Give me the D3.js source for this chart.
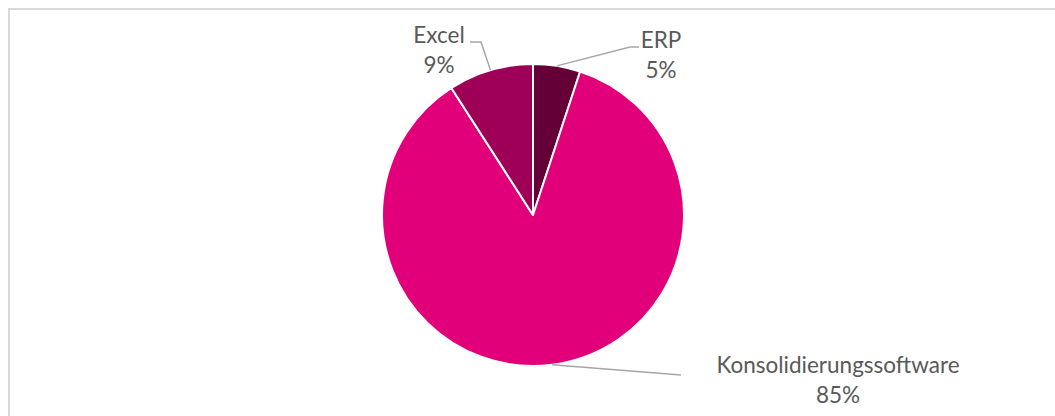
<!DOCTYPE html>
<html>
<head>
<meta charset="utf-8">
<script src="https://cdn.jsdelivr.net/npm/d3@7"></script>
<style>
  html, body { margin: 0; padding: 0; background: #fff; }
  svg { display: block; }
  text { font-family: Lato, "Open Sans", sans-serif; fill: #595959; }
</style>
</head>
<body>
<svg id="chart" width="1055" height="416"></svg>
<script>
// Shares of tools used for consolidation (percent)
const categories = ["ERP", "Konsolidierungssoftware", "Excel"];
const values = [5, 85, 9];
const colors = ["#640037", "#E2007A", "#9E0057"];
const valueLabels = ["5%", "85%", "9%"];

const width = 1055, height = 416;
const cx = 533, cy = 215, radius = 151;

const svg = d3.select("#chart");

// Chart frame
svg.append("rect")
  .attr("x", 9).attr("y", 9)
  .attr("width", 1100).attr("height", 500)
  .attr("fill", "none")
  .attr("stroke", "#D9D9D9")
  .attr("stroke-width", 2);

const data = categories.map((c, i) => ({ name: c, value: values[i], color: colors[i], label: valueLabels[i] }));

const pie = d3.pie().sort(null).value(d => d.value);
const arcs = pie(data);

const arc = d3.arc().innerRadius(0).outerRadius(radius);
const edge = d3.arc().innerRadius(radius).outerRadius(radius);

const g = svg.append("g").attr("transform", `translate(${cx},${cy})`);

g.selectAll("path.slice")
  .data(arcs)
  .join("path")
  .attr("class", "slice")
  .attr("d", arc)
  .attr("fill", d => d.data.color)
  .attr("stroke", "#fff")
  .attr("stroke-width", 2)
  .attr("stroke-linejoin", "round");

// Label placement: elbow and end of leader line, label anchor (relative to pie centre)
const labelLayout = {
  "ERP": { elbow: [97, -168], end: [106, -168], text: [128, -175] },
  "Konsolidierungssoftware": { elbow: [148, 160], end: [148, 160], text: [305, 150] },
  "Excel": { elbow: [-52, -173], end: [-63, -173], text: [-94, -180] }
};

arcs.forEach(a => {
  const L = labelLayout[a.data.name];
  const start = edge.centroid(a);
  g.append("polyline")
    .attr("points", [start, L.elbow, L.end].map(p => p.join(",")).join(" "))
    .attr("fill", "none")
    .attr("stroke", "#A6A6A6")
    .attr("stroke-width", 1.5);

  const t = g.append("text")
    .attr("text-anchor", "middle")
    .attr("font-size", 22.5)
    .attr("x", L.text[0])
    .attr("y", L.text[1]);
  t.append("tspan").attr("x", L.text[0]).attr("dy", "0.35em").text(a.data.name);
  t.append("tspan").attr("x", L.text[0]).attr("dy", 30).text(a.data.label);
});
</script>
</body>
</html>
